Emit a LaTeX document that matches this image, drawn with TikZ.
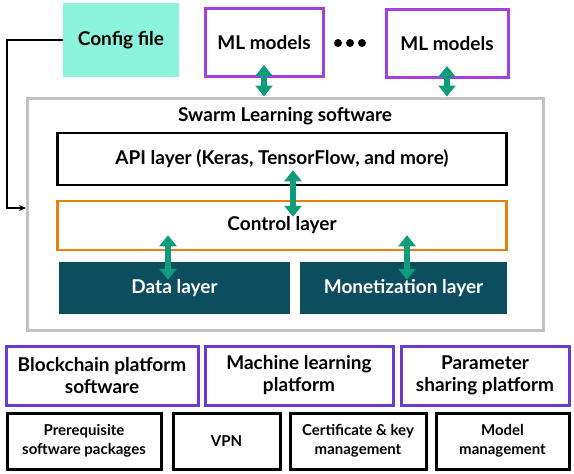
\documentclass[tikz,border=0pt]{standalone}
\usepackage{fontspec}
\setmainfont{Lato}
\usepackage{xcolor}
\usepackage{tikz}
\usetikzlibrary{positioning,calc,arrows.meta}

\definecolor{cfgteal}{HTML}{8CF3DD}
\definecolor{mlpurple}{HTML}{A63FE0}
\definecolor{platpurple}{HTML}{6B3AD2}
\definecolor{arrowgreen}{HTML}{0E9C7B}
\definecolor{layerteal}{HTML}{0D4E5E}
\definecolor{ctlorange}{HTML}{E9800E}
\definecolor{swarmgray}{HTML}{C2C2C2}

\tikzset{
    box/.style={rectangle, inner sep=0pt, align=center, font=\bfseries\fontsize{19}{22}\selectfont},
    mlbox/.style={box, draw=mlpurple, line width=3pt, minimum width=#1, minimum height=68pt},
    platbox/.style={box, draw=platpurple, line width=3pt, minimum width=#1, minimum height=59pt},
    toolbox/.style={box, draw=black, line width=3pt, minimum width=#1, minimum height=56pt, font=\bfseries\fontsize{15}{18.5}\selectfont},
    layerbox/.style={box, fill=layerteal, text=white, minimum width=#1, minimum height=52pt},
    dbl/.style={arrowgreen, line width=6pt, {Triangle[width=17pt,length=11pt]}-{Triangle[width=17pt,length=11pt]}},
}

\begin{document}
\begin{tikzpicture}[x=1pt,y=-1pt]
    \useasboundingbox (0,0) rectangle (574,474);

    % Top: config and models
    \node[box, fill=cfgteal, minimum width=116pt, minimum height=74pt] (cfg) at (121,40) {Config file};
    \node[mlbox=118pt] (mlA) at (264,42.5) {ML models};
    \node[mlbox=122pt] (mlB) at (447,43.5) {ML models};
    \foreach \x in {338,350,362} {
        \fill (\x,43) circle (4pt);
    }

    % Swarm Learning software
    \node[box, draw=swarmgray, line width=3pt, minimum width=516pt, minimum height=232pt] (sls) at (285.5,214) {};
    \node[box] (title) at (285,116) {Swarm Learning software};
    \node[box, draw=black, line width=2.5pt, minimum width=449pt, minimum height=52pt] (api) at (282,159) {API layer (Keras, TensorFlow, and more)};
    \node[box, draw=ctlorange, line width=2.5pt, minimum width=449pt, minimum height=49pt] (ctl) at (282,225.5) {Control layer};
    \node[layerbox=231pt] (data) at (174.5,288) {Data layer};
    \node[layerbox=207pt] (money) at (403.5,288) {Monetization layer};

    % Platforms
    \node[platbox=192pt] (chain) at (102,375.5) {Blockchain platform\\software};
    \node[platbox=188pt] (mlplat) at (299,375.5) {Machine learning\\platform};
    \node[platbox=168pt] (param) at (485,375.5) {Parameter\\sharing platform};

    % Prerequisites
    \node[toolbox=154pt] (prereq) at (84,441) {Prerequisite\\software packages};
    \node[toolbox=107pt] (vpn) at (226.5,441) {VPN};
    \node[toolbox=136pt] (cert) at (358,441) {Certificate \& key\\management};
    \node[toolbox=133pt] (model) at (502.5,441) {Model\\management};

    % Arrows
    \coordinate (cfgin) at ([yshift=6pt]sls.west);
    \coordinate (apix) at (293,0);
    \coordinate (datax) at (168,0);
    \coordinate (moneyx) at (407,0);
    \draw[line width=1.5pt, -{Stealth[length=7pt,width=6pt]}] (cfg.west) -- ++(-56,0) |- (cfgin);
    \draw[dbl] ($(mlA.south)+(0,-13)$) -- (mlA.south |- sls.north);
    \draw[dbl] ($(mlB.south)+(0,-13)$) -- (mlB.south |- sls.north);
    \draw[dbl] ($(apix |- api.south)+(0,-16)$) -- ($(apix |- ctl.north)+(0,17)$);
    \draw[dbl] ($(datax |- ctl.south)+(0,-16)$) -- ($(datax |- data.north)+(0,18)$);
    \draw[dbl] ($(moneyx |- ctl.south)+(0,-16)$) -- ($(moneyx |- money.north)+(0,18)$);
\end{tikzpicture}
\end{document}
